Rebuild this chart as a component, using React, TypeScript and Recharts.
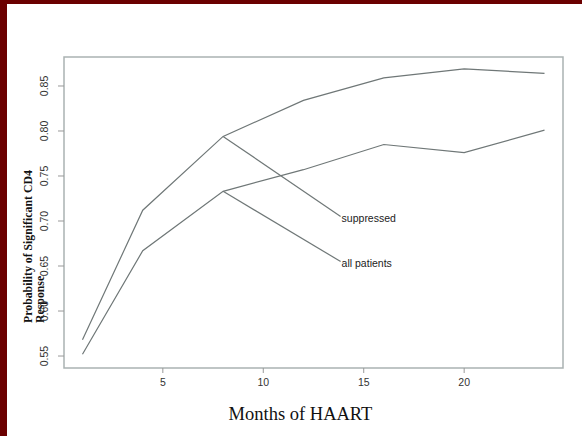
import React from 'react';
import {
  LineChart,
  Line,
  XAxis,
  YAxis,
  ReferenceArea,
  ReferenceLine,
  ReferenceDot,
  Label,
} from 'recharts';

// ---- data ----
const months = [1, 4, 8, 12, 16, 20, 24];
const suppressed = [0.568, 0.712, 0.794, 0.834, 0.859, 0.869, 0.864];
const allPatients = [0.552, 0.667, 0.733, 0.757, 0.785, 0.776, 0.801];

const xTicks = [5, 10, 15, 20];
const yTicks = [0.55, 0.6, 0.65, 0.7, 0.75, 0.8, 0.85];
const xDomain = [0.08, 24.92];
const yDomain = [0.5367, 0.8822];

// annotation pointers: from the month-8 point of each series to its label
const annotNames = ['suppressed', 'all patients'];
const annotStartX = 8;
const annotStartY = [0.794, 0.733];
const annotEndX = 13.85;
const annotEndY = [0.705, 0.655];

const xTitle = 'Months of HAART';
const yTitleLines = ['Probability of Significant CD4', 'Response'];

const data = months.map((m, i) => ({
  month: m,
  suppressed: suppressed[i],
  all: allPatients[i],
}));

const SANS = '"Liberation Sans", Arial, Helvetica, sans-serif';
const SERIF = '"Liberation Serif", "Times New Roman", serif';
const LINE = '#6f7777';
const BOX = '#aab2b2';
const MAROON = '#6b0000';

const YTick = (p: any) => (
  <text
    x={p.x}
    y={p.y}
    transform={`rotate(-90 ${p.x} ${p.y})`}
    textAnchor="middle"
    fontSize={10.5}
    fontFamily={SANS}
    fill="#333"
  >
    {Number(p.payload.value).toFixed(2)}
  </text>
);

const makeAnnotLabel = (name: string) => (props: any) => {
  const vb = props.viewBox || {};
  return (
    <text
      x={vb.x + 1}
      y={vb.y + 5}
      fontSize={10.5}
      fontFamily={SANS}
      fill="#222"
      textAnchor="start"
    >
      {name}
    </text>
  );
};

const YTitle = (props: any) => {
  const vb = props.viewBox || {};
  const startY = vb.y + vb.height - 45;
  const xs = [32, 44];
  return (
    <g>
      {yTitleLines.map((t, i) => (
        <text
          key={i}
          x={xs[i]}
          y={startY}
          transform={`rotate(-90 ${xs[i]} ${startY})`}
          textAnchor="start"
          fontSize={11.8}
          fontWeight="bold"
          fontFamily={SERIF}
          fill="#111"
        >
          {t}
        </text>
      ))}
    </g>
  );
};

const XTitle = (props: any) => {
  const vb = props.viewBox || {};
  return (
    <text
      x={vb.x + vb.width / 2 - 13}
      y={420}
      textAnchor="middle"
      fontSize={18.5}
      fontFamily={SERIF}
      fill="#111"
    >
      {xTitle}
    </text>
  );
};

export default function App() {
  return (
    <div
      style={{
        position: 'absolute',
        left: 0,
        top: 0,
        width: 582,
        height: 436,
        background: '#fff',
        overflow: 'hidden',
      }}
    >
      <LineChart
        width={582}
        height={436}
        data={data}
        margin={{ top: 57, right: 19, bottom: 38, left: 44 }}
      >
        <XAxis
          dataKey="month"
          type="number"
          domain={xDomain}
          ticks={xTicks}
          allowDataOverflow
          height={30}
          axisLine={false}
          tickLine={{ stroke: '#999' }}
          tickSize={5}
          tickMargin={6}
          tick={{ fontSize: 10.5, fill: '#333', fontFamily: SANS }}
        >
          <Label content={XTitle} />
        </XAxis>
        <YAxis
          type="number"
          domain={yDomain}
          ticks={yTicks}
          allowDataOverflow
          width={20}
          axisLine={false}
          tickLine={{ stroke: '#999' }}
          tickSize={6}
          tickMargin={10}
          tick={YTick}
        >
          <Label content={YTitle} />
        </YAxis>
        <ReferenceArea
          x1={xDomain[0]}
          x2={xDomain[1]}
          y1={yDomain[0]}
          y2={yDomain[1]}
          fill="none"
          stroke={BOX}
          strokeWidth={1.5}
          ifOverflow="visible"
        />
        <Line
          dataKey="suppressed"
          stroke={LINE}
          strokeWidth={1.2}
          dot={false}
          activeDot={false}
          isAnimationActive={false}
        />
        <Line
          dataKey="all"
          stroke={LINE}
          strokeWidth={1.2}
          dot={false}
          activeDot={false}
          isAnimationActive={false}
        />
        {annotNames.map((n, i) => (
          <ReferenceLine
            key={'l' + i}
            segment={[
              { x: annotStartX, y: annotStartY[i] },
              { x: annotEndX, y: annotEndY[i] },
            ]}
            stroke={LINE}
            strokeWidth={1.2}
            ifOverflow="visible"
          />
        ))}
        {annotNames.map((n, i) => (
          <ReferenceDot
            key={'d' + i}
            x={annotEndX}
            y={annotEndY[i]}
            r={0}
            fill="none"
            stroke="none"
            ifOverflow="visible"
            label={makeAnnotLabel(n)}
          />
        ))}
      </LineChart>
      <div
        style={{
          position: 'absolute',
          left: 0,
          top: 0,
          width: 582,
          height: 4,
          background: MAROON,
        }}
      />
      <div
        style={{
          position: 'absolute',
          left: 0,
          top: 0,
          width: 7,
          height: 436,
          background: MAROON,
        }}
      />
    </div>
  );
}
